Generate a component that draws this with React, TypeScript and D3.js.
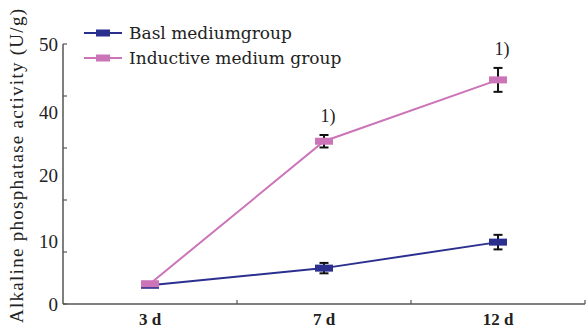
import { useEffect, useRef } from "react"
import * as d3 from "d3"

const days = ["3 d", "7 d", "12 d"]
const baslValues = [3.6, 6.9, 11.9]
const baslErrors = [0.3, 1.0, 1.4]
const inductiveValues = [3.9, 31.3, 43.1]
const inductiveErrors = [0.3, 1.2, 2.3]
const markedDays = ["7 d", "12 d"]
const yTicks = [0, 10, 20, 30, 40, 50]
// tick labels sit where the original figure put them
const yTickLabels = ["0", "10", "20", "40", "50"]
const yTickLabelValues = [0, 12.1, 24.8, 36.9, 50]

const BLUE = "#2b2f8e"
const PINK = "#cc74b8"
const AXIS = "#555"

const App = () => {
  const svgRef = useRef<SVGSVGElement | null>(null)

  useEffect(() => {
    const width = 587
    const height = 329
    const margin = { top: 44, right: 2, bottom: 25, left: 63 }

    const svg = d3.select(svgRef.current)
    svg.selectAll("*").remove()
    svg.attr("width", width).attr("height", height)

    const x = d3
      .scaleBand()
      .domain(days)
      .range([margin.left, width - margin.right])
    const y = d3
      .scaleLinear()
      .domain([0, 50])
      .range([height - margin.bottom, margin.top])

    const cx = (d: string) => (x(d) || 0) + x.bandwidth() / 2
    const y0 = height - margin.bottom

    // axes
    svg
      .append("line")
      .attr("x1", margin.left)
      .attr("x2", margin.left)
      .attr("y1", y(50))
      .attr("y2", y0)
      .attr("stroke", AXIS)
      .attr("stroke-width", 1.5)
    svg
      .append("line")
      .attr("x1", margin.left)
      .attr("x2", width - margin.right)
      .attr("y1", y0)
      .attr("y2", y0)
      .attr("stroke", AXIS)
      .attr("stroke-width", 1.5)

    svg
      .selectAll(".ytick")
      .data(yTicks)
      .enter()
      .append("line")
      .attr("x1", margin.left)
      .attr("x2", margin.left + 4)
      .attr("y1", (d) => y(d))
      .attr("y2", (d) => y(d))
      .attr("stroke", AXIS)
      .attr("stroke-width", 1.2)

    // x ticks at band edges
    const xEdges = days.map((d) => (x(d) || 0) + x.bandwidth())
    svg
      .selectAll(".xtick")
      .data(xEdges)
      .enter()
      .append("line")
      .attr("x1", (d) => d)
      .attr("x2", (d) => d)
      .attr("y1", y0)
      .attr("y2", y0 - 4)
      .attr("stroke", AXIS)
      .attr("stroke-width", 1.2)

    svg
      .selectAll(".ylabel")
      .data(yTickLabels)
      .enter()
      .append("text")
      .attr("x", margin.left - 5)
      .attr("y", (_, i) => y(yTickLabelValues[i]))
      .attr("dy", "0.35em")
      .attr("text-anchor", "end")
      .attr("font-family", "Liberation Serif")
      .attr("font-size", 19)
      .attr("fill", "#222")
      .text((d) => d)

    svg
      .selectAll(".xlabel")
      .data(days)
      .enter()
      .append("text")
      .attr("x", (d) => cx(d))
      .attr("y", y0 + 21)
      .attr("text-anchor", "middle")
      .attr("font-family", "Liberation Serif")
      .attr("font-weight", "bold")
      .attr("font-size", 17)
      .attr("fill", "#222")
      .text((d) => d)

    // y title
    svg
      .append("text")
      .attr("transform", `translate(16,${166}) rotate(-90)`)
      .attr("text-anchor", "middle")
      .attr("dy", "0.35em")
      .attr("font-family", "Liberation Serif")
      .attr("font-size", 19)
      .attr("textLength", 314)
      .attr("lengthAdjust", "spacing")
      .attr("fill", "#222")
      .text("Alkaline phosphatase activity (U/g)")

    const series = [
      { name: "Basl mediumgroup", values: baslValues, errors: baslErrors, color: BLUE },
      { name: "Inductive medium group", values: inductiveValues, errors: inductiveErrors, color: PINK },
    ]

    const line = d3
      .line<number>()
      .x((_, i) => cx(days[i]))
      .y((d) => y(d))

    series.forEach((s) => {
      svg
        .append("path")
        .datum(s.values)
        .attr("d", line)
        .attr("fill", "none")
        .attr("stroke", s.color)
        .attr("stroke-width", 2)

      const g = svg.append("g")
      s.values.forEach((v, i) => {
        const px = cx(days[i])
        const e = s.errors[i]
        g.append("line")
          .attr("x1", px)
          .attr("x2", px)
          .attr("y1", y(v + e))
          .attr("y2", y(v - e))
          .attr("stroke", "#111")
          .attr("stroke-width", 2)
        ;[v + e, v - e].forEach((ev) => {
          g.append("line")
            .attr("x1", px - 4.5)
            .attr("x2", px + 4.5)
            .attr("y1", y(ev))
            .attr("y2", y(ev))
            .attr("stroke", "#111")
            .attr("stroke-width", 2)
        })
        g.append("rect")
          .attr("x", px - 9)
          .attr("y", y(v) - 3.5)
          .attr("width", 18)
          .attr("height", 7)
          .attr("fill", s.color)
      })
    })

    // significance marks
    svg
      .selectAll(".sig")
      .data(markedDays)
      .enter()
      .append("text")
      .attr("x", (d) => cx(d) + 4)
      .attr("y", (d) => {
        const i = days.indexOf(d)
        return y(inductiveValues[i] + inductiveErrors[i]) - 13
      })
      .attr("text-anchor", "middle")
      .attr("font-family", "Liberation Serif")
      .attr("font-size", 18)
      .attr("fill", "#222")
      .text("1)")

    // legend
    series.forEach((s, i) => {
      const ly = 33 + i * 25
      svg
        .append("line")
        .attr("x1", 84)
        .attr("x2", 122)
        .attr("y1", ly)
        .attr("y2", ly)
        .attr("stroke", s.color)
        .attr("stroke-width", 2)
      svg
        .append("rect")
        .attr("x", 96)
        .attr("y", ly - 3.5)
        .attr("width", 14)
        .attr("height", 7)
        .attr("fill", s.color)
      svg
        .append("text")
        .attr("x", 129)
        .attr("y", ly)
        .attr("dy", "0.35em")
        .attr("font-family", "DejaVu Serif")
        .attr("font-size", 17)
        .attr("fill", "#222")
        .text(s.name)
    })
  }, [])

  return (
    <div style={{ position: "absolute", left: 0, top: 0, background: "white" }}>
      <svg ref={svgRef}></svg>
    </div>
  )
}

export default App
